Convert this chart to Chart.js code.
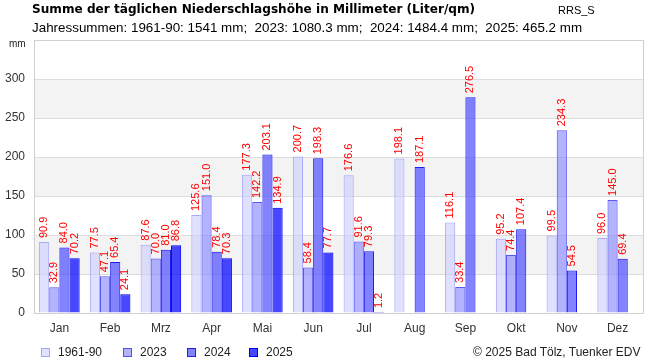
<!DOCTYPE html>
<html>
<head>
<meta charset="utf-8">
<script src="https://cdn.jsdelivr.net/npm/chart.js@4.4.1/dist/chart.umd.min.js"></script>
<style>
  body { margin: 0; background: #fff; font-family: "Liberation Sans", Arial, sans-serif; }
  #wrap { position: relative; width: 650px; height: 360px; }
  #wrap canvas { position: absolute; left: 0; top: 0; }
  .txt { position: absolute; white-space: nowrap; color: #000; }
  .legend-item { position: absolute; top: 345px; font-size: 12px; color: #222; }
  .legend-box { position: absolute; top: 3px; width: 7px; height: 7px; }
</style>
</head>
<body>
<div id="wrap">
  <canvas id="chart" width="650" height="360"></canvas>
  <div class="txt" style="left:32px;top:2px;font-size:12.1px;font-weight:bold;font-family:'DejaVu Sans',Verdana,sans-serif">Summe der täglichen Niederschlagshöhe in Millimeter (Liter/qm)</div>
  <div class="txt" style="left:558px;top:4px;font-size:11px">RRS_S</div>
  <div class="txt" style="left:32px;top:20px;font-size:13.4px">Jahressummen: 1961-90: 1541 mm;&nbsp; 2023: 1080.3 mm;&nbsp; 2024: 1484.4 mm;&nbsp; 2025: 465.2 mm</div>
  <div class="txt" style="left:9px;top:38px;font-size:10px;color:#222">mm</div>
  <div id="legend"></div>
  <div class="txt" style="left:473px;top:345px;font-size:12px;color:#222">© 2025 Bad Tölz, Tuenker EDV</div>
</div>
<script>
// months and monthly precipitation sums (mm)
const months = ['Jan', 'Feb', 'Mrz', 'Apr', 'Mai', 'Jun', 'Jul', 'Aug', 'Sep', 'Okt', 'Nov', 'Dez']
const mean6190 = [90.9, 77.5, 87.6, 125.6, 177.3, 200.7, 176.6, 198.1, 116.1, 95.2, 99.5, 96.0]
const year2023 = [32.9, 47.1, 70.0, 151.0, 142.2, 58.4, 91.6, null, 33.4, 74.4, 234.3, 145.0]
const year2024 = [84.0, 65.4, 81.0, 78.4, 203.1, 198.3, 79.3, 187.1, 276.5, 107.4, 54.5, 69.4]
const year2025 = [70.2, 24.1, 86.8, 70.3, 134.9, 77.7, 1.2, null, null, null, null, null]
const seriesNames = ['1961-90', '2023', '2024', '2025']
const yTicks = [0, 50, 100, 150, 200, 250, 300]

const fills = ['rgba(204,204,255,0.6)', 'rgba(128,128,255,0.6)', 'rgba(72,72,255,0.68)', 'rgba(0,0,255,0.72)']
const borders = ['rgba(150,150,250,0.8)', 'rgba(70,70,245,0.9)', 'rgba(30,30,240,1)', 'rgba(0,0,240,1)']

const seriesData = [mean6190, year2023, year2024, year2025]

// alternating grey bands behind the grid
const bandsPlugin = {
  id: 'bands',
  beforeDraw(chart) {
    const { ctx, chartArea } = chart
    const y = chart.scales.y
    ctx.save()
    ctx.fillStyle = '#f3f3f3'
    for (let v = 50; v < 350; v += 100) {
      const top = y.getPixelForValue(v + 50)
      const bottom = y.getPixelForValue(v)
      ctx.fillRect(chartArea.left, top, chartArea.right - chartArea.left, bottom - top)
    }
    ctx.restore()
  },
  beforeDatasetsDraw(chart) {
    const { ctx, chartArea } = chart
    ctx.save()
    ctx.strokeStyle = '#d0d0d0'
    ctx.lineWidth = 1
    ctx.strokeRect(Math.round(chartArea.left) + 0.5, Math.round(chartArea.top) + 0.5,
      Math.round(chartArea.right - chartArea.left), Math.round(chartArea.bottom - chartArea.top))
    ctx.restore()
  }
}

// red vertical value labels above the bars
const valueLabels = {
  id: 'valueLabels',
  afterDatasetsDraw(chart) {
    const { ctx } = chart
    ctx.save()
    ctx.fillStyle = '#ff0000'
    ctx.font = '11px "Liberation Sans", Arial, sans-serif'
    ctx.textAlign = 'left'
    ctx.textBaseline = 'middle'
    chart.data.datasets.forEach((ds, i) => {
      const meta = chart.getDatasetMeta(i)
      meta.data.forEach((bar, j) => {
        const v = ds.data[j]
        if (v === null || v === undefined) return
        ctx.save()
        ctx.translate(bar.x, bar.y - 4)
        ctx.rotate(-Math.PI / 2)
        ctx.fillText(v.toFixed(1), 0, 0)
        ctx.restore()
      })
    })
    ctx.restore()
  }
}

const ctx = document.getElementById('chart').getContext('2d')
new Chart(ctx, {
  type: 'bar',
  data: {
    labels: months,
    datasets: seriesNames.map((name, i) => ({
      label: name,
      data: seriesData[i],
      backgroundColor: fills[i],
      borderColor: borders[i],
      borderWidth: 1,
      categoryPercentage: 0.8,
      barPercentage: 1.0
    }))
  },
  options: {
    responsive: false,
    animation: false,
    layout: { padding: { top: 40, right: 7, bottom: 22, left: 0 } },
    plugins: {
      legend: { display: false },
      tooltip: { enabled: false }
    },
    scales: {
      x: {
        grid: { display: false, drawTicks: false },
        border: { color: '#d0d0d0' },
        ticks: { color: '#333', font: { size: 12, family: '"Liberation Sans", Arial' }, padding: 8 },
        afterFit(scale) { scale.height = 25 }
      },
      y: {
        min: 0,
        max: 350,
        afterBuildTicks(scale) {
          scale.ticks = yTicks.concat([350]).map(v => ({ value: v }))
        },
        ticks: {
          color: '#333',
          font: { size: 12, family: '"Liberation Sans", Arial' },
          padding: 9,
          callback: v => (v === 350 ? '' : String(v))
        },
        grid: { color: '#dddddd', drawTicks: false },
        border: { color: '#d0d0d0' },
        afterFit(scale) { scale.width = 34 }
      }
    }
  },
  plugins: [bandsPlugin, valueLabels]
})

// simple html legend from the series
const legendPos = [41, 123, 187, 249]
const legend = document.getElementById('legend')
seriesNames.forEach((name, i) => {
  const item = document.createElement('div')
  item.className = 'legend-item'
  item.style.left = legendPos[i] + 'px'
  item.innerHTML = '<span class="legend-box" style="left:0;background:' + fills[i] +
    ';border:1px solid ' + borders[i] + '"></span><span style="margin-left:17px">' + name + '</span>'
  legend.appendChild(item)
})
</script>
</body>
</html>
